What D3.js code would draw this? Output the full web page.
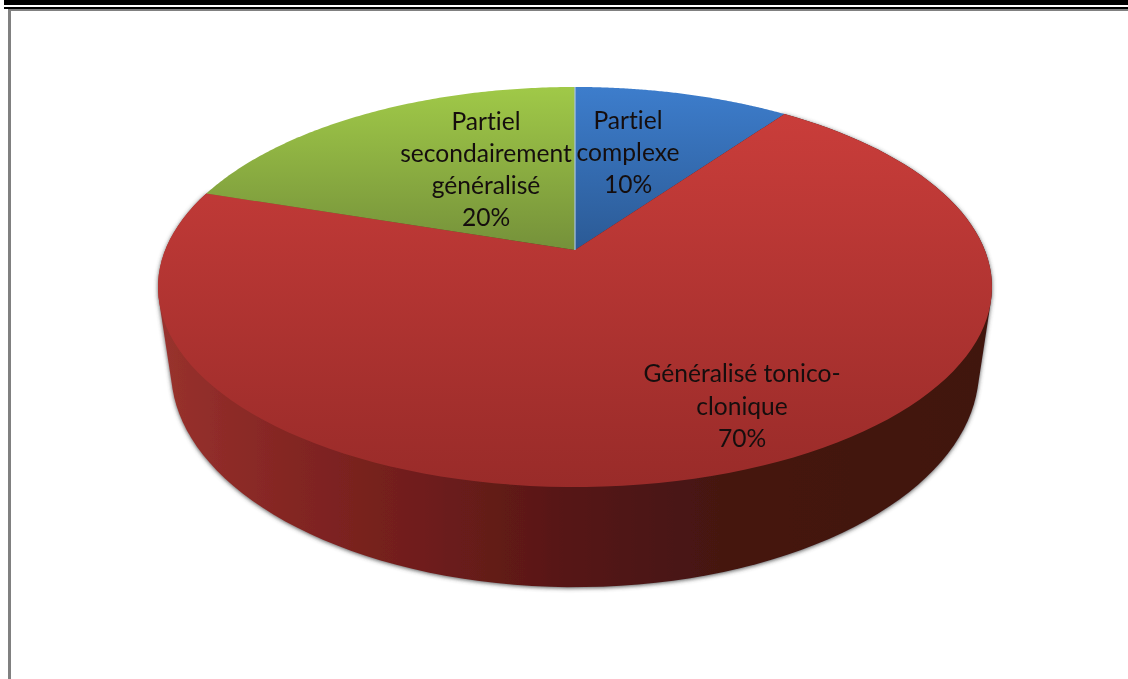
<!DOCTYPE html>
<html><head><meta charset="utf-8">
<script src="https://cdn.jsdelivr.net/npm/d3@7"></script>
<style>html,body{margin:0;padding:0;background:#fff;overflow:hidden}svg{display:block}text{font-family:Lato,"Open Sans",sans-serif;font-size:24.6px;fill:#14110f;text-anchor:middle;font-variant-ligatures:none}</style>
</head><body><svg id="c" width="1128" height="679"></svg>
<script>
const categories = ["Partiel complexe", "Généralisé tonico-clonique", "Partiel secondairement généralisé"];
const values = [10, 70, 20];
const labelLines = [["Partiel","complexe","10%"],["Généralisé tonico-","clonique","70%"],["Partiel","secondairement","généralisé","20%"]];
const labelCentres = [[628,153],[742,406.5],[486,170]];
const faceStops = [["#3d7dcc","#2b5a95"],["#c93d3a","#992b29"],["#a0c948","#75913a"]];
const faceRanges = [[87,250],[115,487],[87,250]];
const wallStops = [[165,"#98312d"],[300,"#822522"],[430,"#6e1d1b"],[575,"#551716"],[720,"#451311"],[985,"#411210"]];

const W = 1128, H = 679;
const svg = d3.select("#c");
const defs = svg.append("defs");
const k = 0.185;
const topPlane = {a:409.8,b:193.2,y0:250};
const botPlane = {a:397,b:209.6,y0:330};
const cx = 575;
const proj = (p,t) => { const u=Math.sin(t), v=-Math.cos(t), d=1-k*v; return [cx+p.a*u/d, p.y0+p.b*v/d]; };
const arcs = d3.pie().sort(null).value(d=>d)(values);
const samples = (s,e) => d3.range(0,121).map(i=>s+(e-s)*i/120);

// frame
svg.append("rect").attr("x",4).attr("y",0).attr("width",W).attr("height",5).attr("fill","#000");
svg.append("rect").attr("x",4).attr("y",7).attr("width",W).attr("height",2).attr("fill","#000");
svg.append("rect").attr("x",8).attr("y",9).attr("width",W).attr("height",2).attr("fill","#808080");
svg.append("rect").attr("x",8).attr("y",9).attr("width",3).attr("height",H).attr("fill","#808080");

// gradients
faceStops.forEach((s,i)=>{
  const g=defs.append("linearGradient").attr("id","f"+i).attr("gradientUnits","userSpaceOnUse")
    .attr("x1",0).attr("x2",0).attr("y1",faceRanges[i][0]).attr("y2",faceRanges[i][1]);
  g.append("stop").attr("offset",0).attr("stop-color",s[0]);
  g.append("stop").attr("offset",1).attr("stop-color",s[1]);
});
const wg=defs.append("linearGradient").attr("id","wall").attr("gradientUnits","userSpaceOnUse")
  .attr("x1",wallStops[0][0]).attr("x2",wallStops[wallStops.length-1][0]).attr("y1",0).attr("y2",0);
const wx=d3.scaleLinear().domain([wallStops[0][0],wallStops[wallStops.length-1][0]]).range([0,1]);
wallStops.forEach(s=>wg.append("stop").attr("offset",wx(s[0])).attr("stop-color",s[1]));
const fl=defs.append("filter").attr("id","shadow").attr("x","-5%").attr("y","-5%").attr("width","110%").attr("height","110%");
fl.append("feDropShadow").attr("dx",0).attr("dy",1).attr("stdDeviation",2.2).attr("flood-color","#444").attr("flood-opacity",0.9);
const soft=defs.append("filter").attr("id","soft").attr("x","-5%").attr("y","-5%").attr("width","110%").attr("height","110%");
soft.append("feGaussianBlur").attr("stdDeviation",0.4);

// wall of the largest slice
const red = arcs[1];
const ts = samples(red.startAngle,red.endAngle);
const hull = d3.polygonHull(ts.map(t=>proj(topPlane,t)).concat(ts.map(t=>proj(botPlane,t))));
const line = d3.line();
svg.append("path").attr("d",line(hull)+"Z").attr("fill","url(#wall)").attr("filter","url(#shadow)");

// top faces
const g = svg.append("g");
g.selectAll("path").data(arcs).join("path")
  .attr("d",d=>line([[cx,topPlane.y0]].concat(samples(d.startAngle,d.endAngle).map(t=>proj(topPlane,t))))+"Z")
  .attr("fill",(d,i)=>`url(#f${i})`);
// light seam between blue and green
const seam = proj(topPlane,arcs[0].startAngle);
svg.append("line").attr("x1",cx).attr("x2",cx).attr("y1",seam[1]).attr("y2",topPlane.y0)
  .attr("stroke","#a9c4e4").attr("stroke-width",1.2);

// labels
const lh = 32.3;
const lg = svg.append("g").attr("filter","url(#soft)");
labelLines.forEach((ls,i)=>{
  const [x,y]=labelCentres[i];
  ls.forEach((t,j)=>lg.append("text").attr("x",x).attr("y",y+(j-(ls.length-1)/2)*lh+8).text(t));
});
</script></body></html>
